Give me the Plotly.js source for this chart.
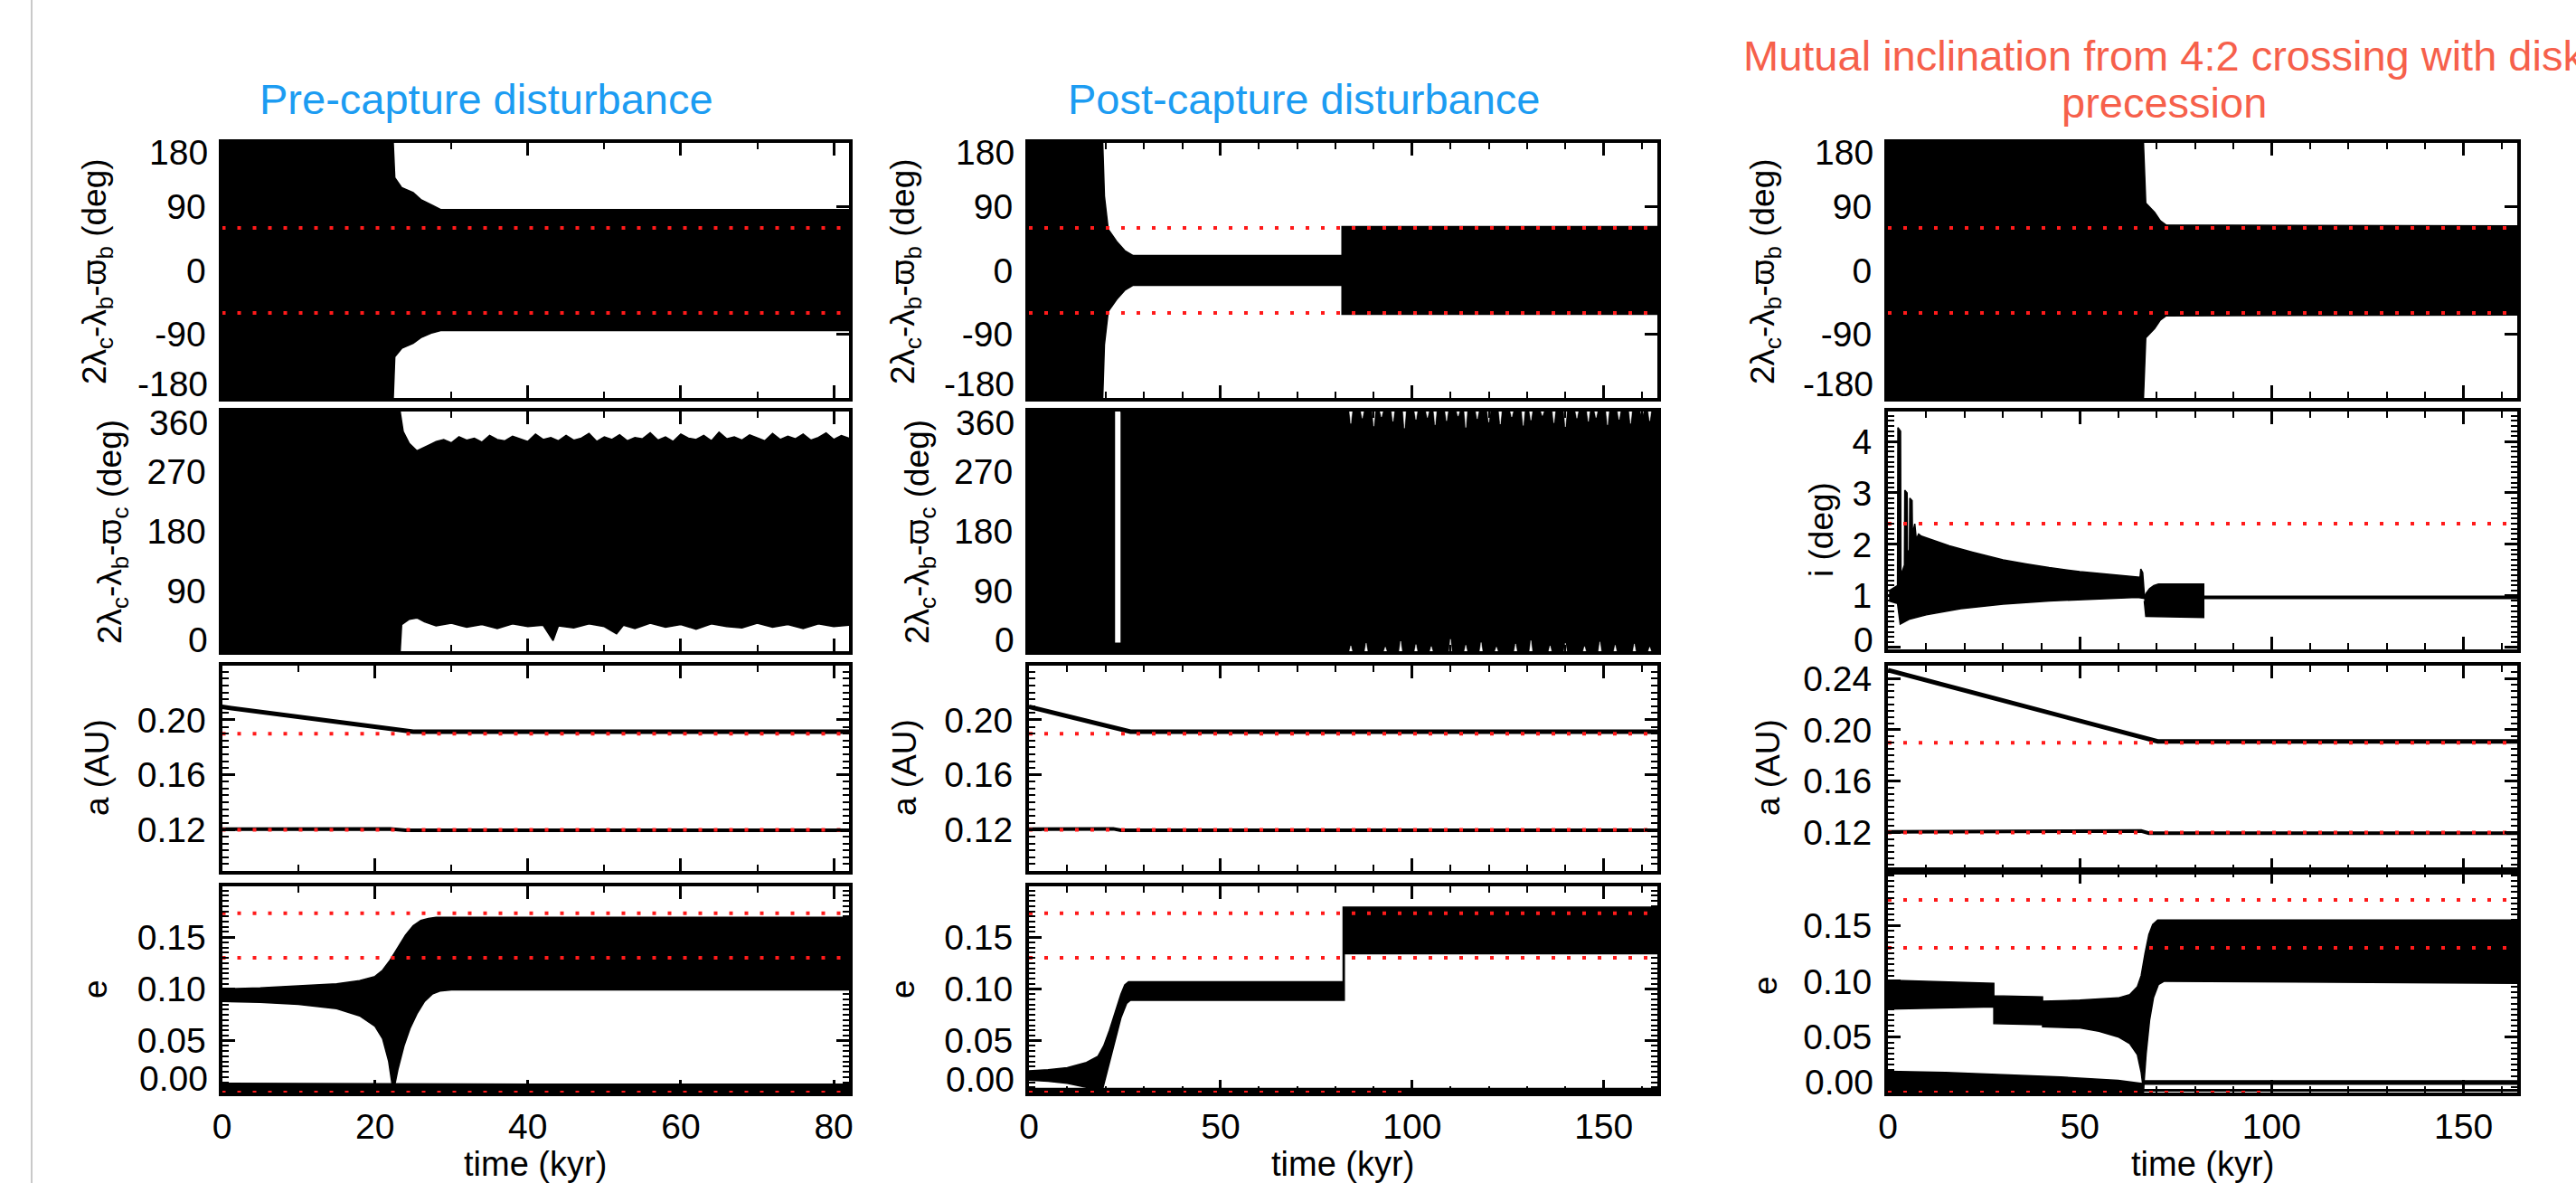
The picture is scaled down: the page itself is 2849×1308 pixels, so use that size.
<!DOCTYPE html>
<html><head><meta charset="utf-8">
<script src="https://cdn.plot.ly/plotly-3.0.1.min.js"></script>
<style>html,body{margin:0;padding:0;background:#fff;overflow:hidden}#chart{width:2849px;height:1308px}</style>
</head><body><div id="chart"></div>
<script>
// ================= DATA =================
const panelTitles = ['Pre-capture disturbance', 'Post-capture disturbance', 'Mutual inclination from 4:2 crossing with disk', 'precession'];
const yTitles = ['2λ<sub>c</sub>-λ<sub>b</sub>-ϖ<sub>b</sub> (deg)', '2λ<sub>c</sub>-λ<sub>b</sub>-ϖ<sub>c</sub> (deg)', 'a (AU)', 'e', 'i (deg)'];
const xTitle = 'time (kyr)';
const angTickVals = [-180, -90, 0, 90, 180];
const angTickText = ['-180', '-90', '0', '90', '180'];
const ang2TickVals = [0, 90, 180, 270, 360];
const ang2TickText = ['0', '90', '180', '270', '360'];
const eTickVals = [0, 0.05, 0.10, 0.15];
const eTickText = ['0.00', '0.05', '0.10', '0.15'];
const incTickVals = [0, 1, 2, 3, 4];
const incTickText = ['0', '1', '2', '3', '4'];
const redAngle = [60, -60];
const redA = [0.19, 0.12];
const redE = [0.173, 0.13];
const redE0 = 0.0, redE0End = 100;
const redInc = 2.4;

// ---- Column 1: pre-capture ----
const c1PhiB_t  = [0, 22.4, 22.6, 23.5, 25.0, 26.0, 27.5, 28.6, 82];
const c1PhiB_up = [180, 180, 131, 117, 110, 100, 92, 86, 86];
const c1PhiB_lo = [-180, -180, -122, -110, -103, -95, -88, -85, -85];

const c1PhiC_tUp = [0, 23.3, 23.7, 24.5, 25.5, 26.5, 27.3,
  28, 29, 30, 31, 32, 33, 34, 35, 36, 37, 38, 39, 40, 41, 42, 43, 44, 45, 46, 47, 48, 49, 50, 51, 52, 53, 54, 55,
  56, 57, 58, 59, 60, 61, 62, 63, 64, 65, 66, 67, 68, 69, 70, 71, 72, 73, 74, 75, 76, 77, 78, 79, 80, 81, 82];
const c1PhiC_up  = [360, 360, 330, 312, 301, 306, 311,
  315, 318, 313, 322, 317, 320, 314, 324, 318, 316, 323, 319, 315, 326, 318, 321, 316, 324, 317, 320, 327, 315,
  322, 318, 325, 316, 321, 319, 328, 317, 322, 315, 326, 320, 318, 324, 316, 329, 319, 322, 317, 325, 320, 316,
  327, 318, 323, 319, 326, 317, 321, 328, 318, 324, 320];
const c1PhiC_tLo = [0, 23.3, 23.5, 24.5, 25.5, 26.5, 28, 30, 32, 34, 36, 38, 40, 42, 43.3, 44, 46, 48, 50, 51.6, 52.5, 54, 56, 58, 60, 62, 64, 66, 68, 70, 72, 74, 76, 78, 80, 82];
const c1PhiC_lo  = [0, 0, 40, 48, 50, 44, 38, 42, 36, 40, 34, 41, 37, 39, 16, 38, 35, 41, 37, 26, 39, 34, 42, 36, 40, 33, 41, 37, 35, 42, 36, 40, 34, 41, 37, 39];

const c1Ac_t = [0, 25, 82];
const c1Ac   = [0.2095, 0.1915, 0.1915];
const c1Ab_t = [0, 22, 24, 82];
const c1Ab   = [0.1205, 0.1207, 0.1197, 0.1197];

const c1Ec_tUp = [0, 5, 10, 15, 18, 20, 21, 22, 23, 24, 25, 26, 27, 28, 82];
const c1Ec_up  = [0.100, 0.101, 0.103, 0.105, 0.108, 0.112, 0.118, 0.128, 0.140, 0.152, 0.161, 0.166, 0.168, 0.169, 0.169];
const c1Ec_tLo = [0, 5, 10, 15, 18, 20, 21, 21.8, 22.4, 23, 23.8, 24.6, 25.5, 26.5, 27.5, 28.5, 30, 82];
const c1Ec_lo  = [0.088, 0.087, 0.085, 0.081, 0.074, 0.064, 0.052, 0.030, 0.0, 0.022, 0.045, 0.062, 0.076, 0.088, 0.095, 0.098, 0.099, 0.099];
const c1Eb_t  = [0, 40, 82];
const c1Eb_up = [0.009, 0.008, 0.008];
const c1Eb_lo = [0, 0, 0];

// ---- Column 2: post-capture ----
const c2PhiB_tUp = [0, 19.25, 19.7, 20.7, 22.9, 25.0, 27.2, 81.7, 81.7, 164];
const c2PhiB_up  = [180, 180, 105, 58, 41, 28, 21, 21, 62, 62];
const c2PhiB_tLo = [0, 19.25, 19.7, 20.7, 22.9, 25.0, 27.2, 81.7, 81.7, 164];
const c2PhiB_lo  = [-180, -180, -105, -58, -41, -28, -21, -21, -62, -62];

const c2PhiC_a_t  = [0, 22.3];
const c2PhiC_a_up = [360, 360];
const c2PhiC_a_lo = [0, 0];
const c2PhiC_gap_t  = [22.3, 23.9];
const c2PhiC_gap_up = [12, 12];
const c2PhiC_gap_lo = [0, 0];
const c2PhiC_b_t  = [23.9, 164];
const c2PhiC_b_up = [360, 360];
const c2PhiC_b_lo = [0, 0];
// narrow white notches along the edges after the disturbance
const c2TopNotch_t = [84, 87, 90, 92, 95, 98, 101, 104, 106, 109, 112, 114, 117, 120, 123, 126, 129, 131, 134, 137, 140, 143, 146, 148, 151, 154, 157, 160, 162];
const c2TopNotch_d = [18, 10, 22, 8, 15, 25, 12, 9, 20, 14, 7, 24, 11, 16, 19, 8, 21, 13, 6, 17, 23, 10, 15, 9, 20, 12, 18, 8, 14];
const c2BotNotch_t = [84, 88, 93, 97, 101, 105, 110, 114, 118, 122, 127, 131, 136, 140, 145, 149, 153, 158, 162];
const c2BotNotch_h = [8, 12, 6, 15, 10, 7, 18, 9, 13, 6, 11, 16, 8, 12, 7, 14, 9, 11, 6];

const c2Ac_t = [0, 26.5, 164];
const c2Ac   = [0.2095, 0.1915, 0.1915];
const c2Ab_t = [0, 22, 24, 164];
const c2Ab   = [0.1205, 0.1207, 0.1197, 0.1197];

const c2Ec_tUp = [0, 5, 10, 15, 18, 19.5, 21, 22.5, 24, 25, 26, 82, 82, 164];
const c2Ec_up  = [0.021, 0.022, 0.024, 0.029, 0.035, 0.045, 0.060, 0.078, 0.095, 0.104, 0.107, 0.107, 0.179, 0.179];
const c2Ec_tLo = [0, 5, 10, 15, 18, 19, 20, 21, 22.5, 24, 25.5, 26.5, 82.3, 82.3, 164];
const c2Ec_lo  = [0.012, 0.011, 0.009, 0.005, 0.001, 0.0, 0.012, 0.028, 0.050, 0.072, 0.086, 0.089, 0.089, 0.134, 0.134];
const c2Eb_t  = [0, 164];
const c2Eb_up = [0.004, 0.004];
const c2Eb_lo = [0, 0];

// ---- Column 3: inclination run ----
const c3PhiB_tUp = [0, 66.6, 67.2, 68.0, 69.5, 71.0, 72.5, 164];
const c3PhiB_up  = [180, 180, 95, 90, 82, 70, 64, 63];
const c3PhiB_tLo = [0, 66.6, 67.2, 68.0, 69.5, 71.0, 72.5, 164];
const c3PhiB_lo  = [-180, -180, -95, -90, -82, -70, -64, -63];

const c3Inc_tUp = [0.3, 2.5, 2.6, 3.3, 3.4, 4.3, 4.4, 5.0, 5.1, 5.6, 5.7, 6.3, 6.4, 7.0, 7.4, 8.0, 8.7, 12, 16, 22, 30, 36, 42, 50, 58, 64, 65.7, 65.9, 66.4, 66.8];
const c3Inc_up  = [1.1, 1.2, 4.27, 4.2, 1.4, 1.6, 3.05, 3.0, 1.8, 1.9, 2.9, 2.85, 2.2, 2.4, 2.1, 2.2, 2.16, 2.07, 1.97, 1.85, 1.7, 1.62, 1.55, 1.47, 1.41, 1.37, 1.36, 1.52, 1.45, 1.05];
const c3Inc_tLo = [0.3, 2.5, 3.2, 5.7, 10, 19, 30, 42, 55, 65, 66.8];
const c3Inc_lo  = [0.9, 0.85, 0.45, 0.55, 0.63, 0.75, 0.84, 0.9, 0.94, 0.97, 0.95];
const c3IncB_tUp = [66.8, 67.3, 68.2, 69.3, 70.5, 82.3];
const c3IncB_up  = [0.98, 1.05, 1.14, 1.2, 1.23, 1.23];
const c3IncB_tLo = [66.8, 67.2, 82.3];
const c3IncB_lo  = [0.9, 0.6, 0.58];
const c3IncFlat_t = [82.3, 164];
const c3IncFlat   = [0.97, 0.97];

const c3Ac_t = [0, 70.3, 164];
const c3Ac   = [0.2465, 0.191, 0.191];
const c3Ab_t = [0, 64, 66, 68, 164];
const c3Ab   = [0.1205, 0.1205, 0.1212, 0.1195, 0.1195];

const c3Ec_tUp = [0, 27.6, 27.6, 40.3, 40.3, 50, 60, 63, 65, 66, 67, 68, 69, 70.3, 164];
const c3Ec_up  = [0.101, 0.098, 0.087, 0.086, 0.082, 0.083, 0.085, 0.088, 0.095, 0.105, 0.125, 0.142, 0.151, 0.155, 0.155];
const c3Ec_tLo = [0, 27.6, 27.6, 40.3, 40.3, 50, 55, 60, 63, 65, 66, 66.6, 67.3, 68.2, 69.2, 70.5, 72, 164];
const c3Ec_lo  = [0.075, 0.077, 0.062, 0.061, 0.059, 0.058, 0.055, 0.050, 0.044, 0.034, 0.018, 0.002, 0.035, 0.065, 0.085, 0.097, 0.100, 0.098];
const c3Eb_t  = [0, 15, 30, 45, 60, 66.6];
const c3Eb_up = [0.019, 0.018, 0.016, 0.014, 0.011, 0.008];
const c3Eb_lo = [0, 0, 0, 0, 0, 0];
const c3Eb2_t  = [66.6, 164];
const c3Eb2_up = [0.0105, 0.0105];
const c3Eb2_lo = [0.0075, 0.0075];
const c3Eb3_t = [66.6, 164];
const c3Eb3   = [0.002, 0.002];

// ================= LAYOUT GEOMETRY =================
const W = 2849, H = 1308;
const FONT = 'Liberation Sans, Arial, Helvetica, sans-serif';
const colPx = [[245.5, 939], [1138, 1833], [2088, 2784]];
const rowPx = [
  [[158, 440], [455, 720], [736, 963], [980, 1208]],
  [[158, 440], [455, 720], [736, 963], [980, 1208]],
  [[158, 440], [455, 718], [736, 963], [963, 1208]]
];
const xRanges = [[0, 82], [0, 164], [0, 164]];
const xDtick = [20, 50, 50];

const layout = {
  width: W, height: H, margin: {l: 0, r: 0, t: 0, b: 0},
  paper_bgcolor: '#ffffff', plot_bgcolor: 'rgba(0,0,0,0)', showlegend: false,
  annotations: [], shapes: []
};
const traces = [];
let nAx = 0;

function baseAxis() {
  return {showline: true, linecolor: '#000', linewidth: 4, mirror: 'ticks', ticks: 'inside',
    ticklen: 14, tickwidth: 3, tickcolor: '#000', showgrid: false, zeroline: false,
    fixedrange: true, tickfont: {family: FONT, size: 39, color: '#000'}};
}

function ann(text, xpx, ypx, size, color, angle, xanchor) {
  layout.annotations.push({text: text, x: xpx / W, y: 1 - ypx / H, xref: 'paper', yref: 'paper',
    xanchor: xanchor || 'center', yanchor: 'middle', showarrow: false, textangle: angle || 0,
    borderpad: 0, font: {family: FONT, size: size, color: color}});
}

// tick labels at the ends of an axis sit slightly inside the frame (as in the reference)
function endLabels(col, row, texts, shifts) {
  const [t0, t1] = rowPx[col][row];
  const xl = colPx[col][0] - 15;
  shifts.forEach((sh, k) => {
    if (sh === null) return;
    const ypx = (k === 0 ? t1 : t0) + sh;
    ann(texts[k], xl, ypx, 39, '#000', 0, 'right');
  });
}

function panel(col, row, yopt) {
  nAx++;
  const s = nAx === 1 ? '' : String(nAx);
  const [x0, x1] = colPx[col];
  const [t0, t1] = rowPx[col][row];
  const xa = baseAxis();
  Object.assign(xa, {domain: [x0 / W, x1 / W], range: xRanges[col], anchor: 'y' + s,
    tick0: 0, dtick: xDtick[col], showticklabels: row === 3, ticklabelstandoff: 0,
    minor: {ticks: 'inside', ticklen: 7, tickwidth: 2, dtick: 10, tickcolor: '#000'}});
  const ya = baseAxis();
  Object.assign(ya, {domain: [1 - t1 / H, 1 - t0 / H], anchor: 'x' + s, ticklabelstandoff: 6}, yopt);
  layout['xaxis' + s] = xa;
  layout['yaxis' + s] = ya;
  return {x: 'x' + s, y: 'y' + s};
}

function band(ax, tUp, up, tLo, lo) {
  traces.push({type: 'scatter', mode: 'lines', xaxis: ax.x, yaxis: ax.y,
    x: tUp.concat(tLo.slice().reverse()), y: up.concat(lo.slice().reverse()),
    fill: 'toself', fillcolor: '#000', line: {color: '#000', width: 1.5}, hoverinfo: 'skip'});
}
function notches(ax, ts, ds, edge, dir, half) {
  const xs = [], ys = [];
  ts.forEach((t, k) => {
    xs.push(t - half, t, t + half, null);
    ys.push(edge, edge + dir * ds[k], edge, null);
  });
  traces.push({type: 'scatter', mode: 'lines', xaxis: ax.x, yaxis: ax.y, x: xs, y: ys,
    fill: 'toself', fillcolor: '#fff', line: {color: '#fff', width: 0.5}, hoverinfo: 'skip'});
}
function line(ax, t, v, w) {
  traces.push({type: 'scatter', mode: 'lines', xaxis: ax.x, yaxis: ax.y, x: t, y: v,
    line: {color: '#000', width: w}, hoverinfo: 'skip'});
}
function red(ax, yv, xs) {
  traces.push({type: 'scatter', mode: 'lines', xaxis: ax.x, yaxis: ax.y, x: xs, y: [yv, yv],
    line: {color: '#ff1a1a', width: 4, dash: '4px,13px'}, hoverinfo: 'skip'});
}

function blank(texts, idxs) { return texts.map((t, k) => idxs.includes(k) ? '' : t); }
const angOpt = {range: [-180, 180], tickmode: 'array', tickvals: angTickVals, ticktext: blank(angTickText, [0, 4])};
const ang2Opt = {range: [0, 360], tickmode: 'array', tickvals: ang2TickVals, ticktext: blank(ang2TickText, [0, 4])};
const aOpt = {range: [0.09, 0.2395], tick0: 0, dtick: 0.04, tickformat: '.2f',
  minor: {ticks: 'inside', ticklen: 7, tickwidth: 2, dtick: 0.005, tickcolor: '#000'}};
const a3Opt = Object.assign({}, aOpt, {range: [0.09, 0.25]});
const eOpt = {range: [0, 0.199], tickmode: 'array', tickvals: eTickVals, ticktext: blank(eTickText, [0]),
  minor: {ticks: 'inside', ticklen: 7, tickwidth: 2, dtick: 0.005, tickcolor: '#000'}};
const iOpt = {range: [-0.04, 4.58], tickmode: 'array', tickvals: incTickVals, ticktext: blank(incTickText, [0]),
  minor: {ticks: 'inside', ticklen: 7, tickwidth: 2, dtick: 0.1, tickcolor: '#000'}};

// ---- Column 1 ----
let ax = panel(0, 0, angOpt);
band(ax, c1PhiB_t, c1PhiB_up, c1PhiB_t, c1PhiB_lo);
redAngle.forEach(v => red(ax, v, xRanges[0]));
endLabels(0, 0, [angTickText[0], angTickText[4]], [-15, 10]);
ax = panel(0, 1, ang2Opt);
band(ax, c1PhiC_tUp, c1PhiC_up, c1PhiC_tLo, c1PhiC_lo);
endLabels(0, 1, [ang2TickText[0], ang2TickText[4]], [-13, 12]);
ax = panel(0, 2, aOpt);
line(ax, c1Ac_t, c1Ac, 5); line(ax, c1Ab_t, c1Ab, 4);
redA.forEach(v => red(ax, v, xRanges[0]));
ax = panel(0, 3, eOpt);
band(ax, c1Ec_tUp, c1Ec_up, c1Ec_tLo, c1Ec_lo);
band(ax, c1Eb_t, c1Eb_up, c1Eb_t, c1Eb_lo);
redE.forEach(v => red(ax, v, xRanges[0]));
red(ax, redE0, [0, Math.min(redE0End, xRanges[0][1])]);
endLabels(0, 3, [eTickText[0], null], [-16, null]);

// ---- Column 2 ----
ax = panel(1, 0, angOpt);
band(ax, c2PhiB_tUp, c2PhiB_up, c2PhiB_tLo, c2PhiB_lo);
redAngle.forEach(v => red(ax, v, xRanges[1]));
endLabels(1, 0, [angTickText[0], angTickText[4]], [-15, 10]);
ax = panel(1, 1, ang2Opt);
band(ax, c2PhiC_a_t, c2PhiC_a_up, c2PhiC_a_t, c2PhiC_a_lo);
band(ax, c2PhiC_gap_t, c2PhiC_gap_up, c2PhiC_gap_t, c2PhiC_gap_lo);
band(ax, c2PhiC_b_t, c2PhiC_b_up, c2PhiC_b_t, c2PhiC_b_lo);
notches(ax, c2TopNotch_t, c2TopNotch_d, 360, -1, 0.35);
notches(ax, c2BotNotch_t, c2BotNotch_h, 0, 1, 0.35);
endLabels(1, 1, [ang2TickText[0], ang2TickText[4]], [-13, 12]);
ax = panel(1, 2, aOpt);
line(ax, c2Ac_t, c2Ac, 5); line(ax, c2Ab_t, c2Ab, 4);
redA.forEach(v => red(ax, v, xRanges[1]));
ax = panel(1, 3, eOpt);
band(ax, c2Ec_tUp, c2Ec_up, c2Ec_tLo, c2Ec_lo);
band(ax, c2Eb_t, c2Eb_up, c2Eb_t, c2Eb_lo);
redE.forEach(v => red(ax, v, xRanges[1]));
red(ax, redE0, [0, redE0End]);
endLabels(1, 3, [eTickText[0], null], [-15, null]);

// ---- Column 3 ----
ax = panel(2, 0, angOpt);
band(ax, c3PhiB_tUp, c3PhiB_up, c3PhiB_tLo, c3PhiB_lo);
redAngle.forEach(v => red(ax, v, xRanges[2]));
endLabels(2, 0, [angTickText[0], angTickText[4]], [-15, 10]);
ax = panel(2, 1, iOpt);
band(ax, c3Inc_tUp, c3Inc_up, c3Inc_tLo, c3Inc_lo);
band(ax, c3IncB_tUp, c3IncB_up, c3IncB_tLo, c3IncB_lo);
line(ax, c3IncFlat_t, c3IncFlat, 4);
red(ax, redInc, xRanges[2]);
endLabels(2, 1, [incTickText[0], null], [-11, null]);
ax = panel(2, 2, a3Opt);
line(ax, c3Ac_t, c3Ac, 5); line(ax, c3Ab_t, c3Ab, 4);
redA.forEach(v => red(ax, v, xRanges[2]));
ax = panel(2, 3, eOpt);
band(ax, c3Ec_tUp, c3Ec_up, c3Ec_tLo, c3Ec_lo);
band(ax, c3Eb_t, c3Eb_up, c3Eb_t, c3Eb_lo);
band(ax, c3Eb2_t, c3Eb2_up, c3Eb2_t, c3Eb2_lo);
line(ax, c3Eb3_t, c3Eb3, 3);
redE.forEach(v => red(ax, v, xRanges[2]));
red(ax, redE0, [0, redE0End]);
endLabels(2, 3, [eTickText[0], null], [-12, null]);

// ================= TEXT =================
const BLUE = '#1c9cf2', SALMON = '#f6604b';
ann(panelTitles[0], 538, 109, 47, BLUE);
ann(panelTitles[1], 1442, 109, 47, BLUE);
ann(panelTitles[2], 2393, 61, 47, SALMON);
ann(panelTitles[3], 2393, 113, 47, SALMON);

const yTitlePos = [
  [[107, 300], [124, 588], [107, 849], [105, 1094]],
  [[1001, 300], [1017, 588], [1000, 849], [998, 1094]],
  [[1952, 300], [2014, 586], [1955, 849], [1952, 1090]]
];
const yTitleIdx = [[0, 1, 2, 3], [0, 1, 2, 3], [0, 4, 2, 3]];
for (let c = 0; c < 3; c++) for (let r = 0; r < 4; r++)
  ann(yTitles[yTitleIdx[c][r]], yTitlePos[c][r][0], yTitlePos[c][r][1], 37, '#000', -90);
for (let c = 0; c < 3; c++) ann(xTitle, (colPx[c][0] + colPx[c][1]) / 2, 1287, 38, '#000');

layout.shapes.push({type: 'line', xref: 'paper', yref: 'paper', x0: 35 / W, x1: 35 / W, y0: 0, y1: 1,
  line: {color: '#c9c9c9', width: 2}});

Plotly.newPlot('chart', traces, layout, {staticPlot: true, displayModeBar: false});
</script>
</body></html>
